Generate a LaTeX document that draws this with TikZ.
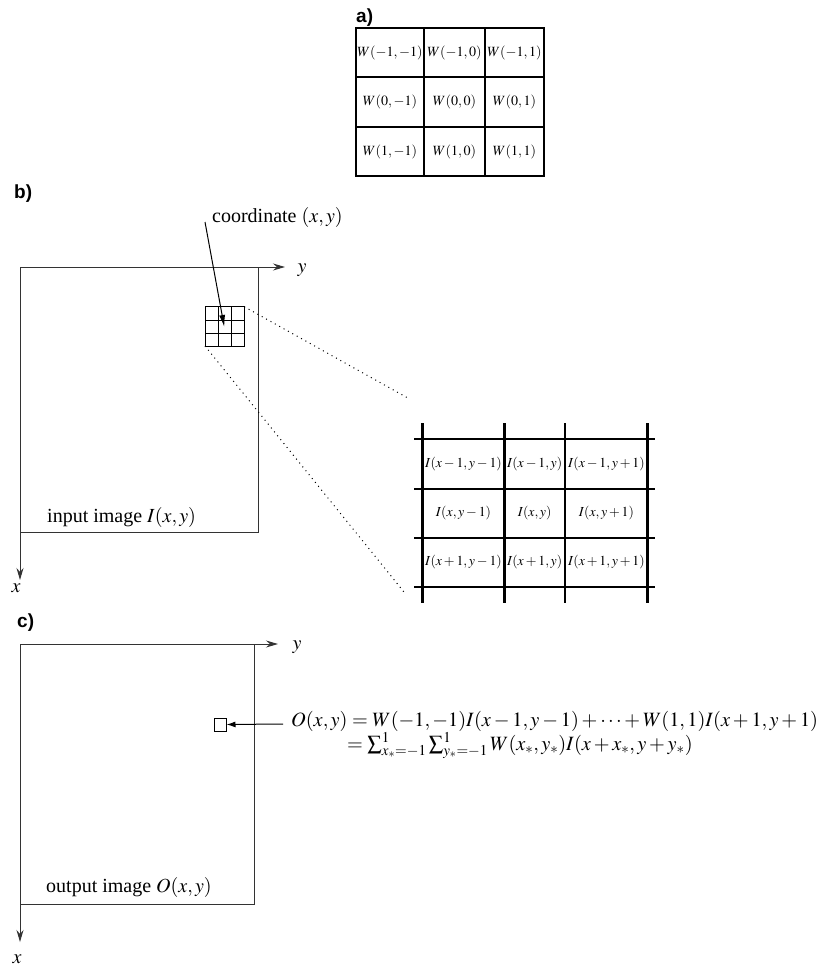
\documentclass[tikz,border=0pt]{standalone}
\usepackage{mathptmx}
\usepackage[no-math]{fontspec}
\setmainfont{Liberation Serif}
\newfontfamily\labelfont{Liberation Sans}
\usetikzlibrary{arrows.meta}
\begin{document}
\begin{tikzpicture}[x=1pt,y=-1pt,
  thickgrid/.style={line width=2.6pt, black},
  thingrid/.style={line width=1pt, black},
  boxline/.style={line width=1pt, black!80},
  axisarrow/.style={boxline, -{Stealth[length=12pt,width=7pt,inset=4pt]}},
  cell/.style={inner sep=0pt, font=\fontsize{14.1}{17}\selectfont},
  bigcell/.style={inner sep=0pt, font=\fontsize{13.8}{16}\selectfont},
  maintext/.style={inner sep=0pt, font=\fontsize{20}{24}\selectfont},
  formula/.style={inner sep=0pt, font=\fontsize{20.3}{24}\selectfont},
  partlabel/.style={inner sep=0pt, font=\labelfont\bfseries\fontsize{19}{22}\selectfont},
  zoomline/.style={line width=1pt, dash pattern=on 1pt off 4pt},
  pointer/.style={line width=1pt, -{Latex[length=12pt,width=6pt]}},
]
\useasboundingbox (0,0) rectangle (823,969);

% ---------------- a) ----------------
\node[partlabel, anchor=base west] (la) at (356,22) {a)};
\draw[thickgrid] (356,28) rectangle (544,176);
\foreach \x in {424,485} \draw[thickgrid] (\x,28) -- (\x,176);
\foreach \y in {77,127} \draw[thickgrid] (356,\y) -- (544,\y);
\node[cell] (w11) at (390,52.5)   {$W(-1,-1)$};
\node[cell] (w12) at (454.5,52.5) {$W(-1,0)$};
\node[cell] (w13) at (514.5,52.5) {$W(-1,1)$};
\node[cell] (w21) at (390,102)    {$W(0,-1)$};
\node[cell] (w22) at (454.5,102)  {$W(0,0)$};
\node[cell] (w23) at (514.5,102)  {$W(0,1)$};
\node[cell] (w31) at (390,151.5)  {$W(1,-1)$};
\node[cell] (w32) at (454.5,151.5){$W(1,0)$};
\node[cell] (w33) at (514.5,151.5){$W(1,1)$};

% ---------------- b) ----------------
\node[partlabel, anchor=base west] (lb) at (14,198) {b)};
\draw[boxline] (20,532) -- (258,532) -- (258,267);
\draw[axisarrow] (20,267) -- (285,267);
\draw[axisarrow] (20,267) -- (20,580);
\node[maintext, anchor=base] (by) at (302,272) {$y$};
\node[maintext, anchor=base] (bx) at (16,592) {$x$};
\node[maintext, anchor=base west] (bin) at (47,522) {input image $I(x,y)$};

% small 3x3 grid
\draw[thingrid] (205,306.7) rectangle (244.3,346);
\foreach \x in {218.3,231.7} \draw[thingrid] (\x,306.7) -- (\x,346);
\foreach \y in {320,333.3} \draw[thingrid] (205,\y) -- (244.3,\y);
\coordinate (sgtr) at (244.3,306.7);
\coordinate (sgbl) at (205,346);
\coordinate (sgc) at (224.3,327);

\node[maintext, anchor=base west] (coord) at (212,222) {coordinate $(x,y)$};
\coordinate (cstart) at (205,222);
\draw[pointer] (cstart) -- (sgc);

% zoom lines
\coordinate (bgtl) at (408.3,398.3);
\coordinate (bgbl) at (404,592);
\draw[zoomline] (sgtr) -- (bgtl);
\draw[zoomline] (sgbl) -- (bgbl);

% big grid
\foreach \y in {439,489,538,587} \draw[thickgrid] (414,\y) -- (655,\y);
\foreach \x in {422.7,504.3,565,647.7} \draw[thickgrid] (\x,423) -- (\x,603);
\node[bigcell] (i11) at (463.5,464)   {$I(x-1,y-1)$};
\node[bigcell] (i12) at (534.6,464)   {$I(x-1,y)$};
\node[bigcell] (i13) at (606.4,464)   {$I(x-1,y+1)$};
\node[bigcell] (i21) at (463.5,513.5) {$I(x,y-1)$};
\node[bigcell] (i22) at (534.6,513.5) {$I(x,y)$};
\node[bigcell] (i23) at (606.4,513.5) {$I(x,y+1)$};
\node[bigcell] (i31) at (463.5,562.5) {$I(x+1,y-1)$};
\node[bigcell] (i32) at (534.6,562.5) {$I(x+1,y)$};
\node[bigcell] (i33) at (606.4,562.5) {$I(x+1,y+1)$};

% ---------------- c) ----------------
\node[partlabel, anchor=base west] (lc) at (17,627) {c)};
\draw[boxline] (20,904) -- (254,904) -- (254,644);
\draw[axisarrow] (20,644) -- (278,644);
\draw[axisarrow] (20,644) -- (20,942);
\node[maintext, anchor=base] (cy) at (297,649) {$y$};
\node[maintext, anchor=base] (cx) at (17,963) {$x$};
\node[maintext, anchor=base west] (cout) at (46,892) {output image $O(x,y)$};

\node[draw, line width=1pt, minimum width=12pt, minimum height=13pt, inner sep=0pt] (osq) at (220,724.5) {};
\node[formula, anchor=base west] (f1) at (291,726)
  {$O(x,y) = W(-1,-1)I(x-1,y-1)+\cdots+W(1,1)I(x+1,y+1)$};
\node[formula, anchor=base west] (f2) at (347,750)
  {$= \sum_{x_*=-1}^{1}\sum_{y_*=-1}^{1} W(x_*,y_*)I(x+x_*,y+y_*)$};
\coordinate (fstart) at (283,724);
\draw[line width=1pt, -{Latex[length=9pt,width=6pt]}] (fstart) -- (osq.east);
\end{tikzpicture}
\end{document}
